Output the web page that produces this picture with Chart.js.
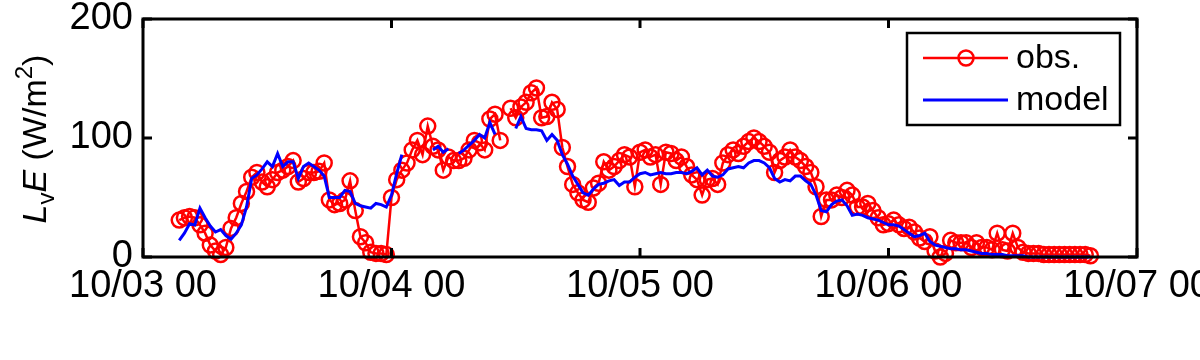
<!DOCTYPE html>
<html>
<head>
<meta charset="utf-8">
<script src="https://cdn.jsdelivr.net/npm/chart.js@4.4.1/dist/chart.umd.min.js"></script>
<style>
  html, body { margin: 0; padding: 0; background: #fff; }
  #wrap { width: 1200px; height: 360px; }
</style>
</head>
<body>
<div id="wrap"><canvas id="myChart" width="1200" height="360"></canvas></div>
<script>
// hours since 10/03 00, half-hourly samples
var tickHours = [0, 24, 48, 72, 96];
var tickLabels = ['10/03 00', '10/04 00', '10/05 00', '10/06 00', '10/07 00'];
var yTicks = [0, 100, 200];
var startHour = 3.5;
var stepHour = 0.5;

// observed LvE (W/m2), from 10/03 03:30
var obsValues = [
  31,
  33, 34, 33, 27, 20, 10, 5, 2, 8, 24, 33, 45,
  55, 67, 71, 63, 59, 65, 71, 73, 76, 81, 63, 66,
  71, 71, 72, 79, 48, 44, 45, 48, 64, 39, 17, 12,
  4, 3, 3, 2,
  50, 65, 73, 79, 90, 98, 86, 110, 93, 90, 73, 84,
  81, 81, 83, 90, 98, 96, 90, 116, 120, 98, null, 125,
  117, 126, 130, 138, 142, 117, 118, 130, 124, 92, 76, 61,
  54, 48, 46, 58, 62, 80, 73, 76, 81, 86, 84, 59,
  88, 90, 84, 86, 61, 88, 87, 81, 84, 76, 69, 65,
  52, 65, 66, 61, 79, 86, 90, 87, 93, 97, 100, 97,
  93, 88, 71, 81, 84, 90, 84, 81, 76, 71, 59, 34,
  48, 48, 52, 50, 56, 52, 42, 42, 45, 39, 33, 27,
  28, 31, 27, 24, 25, 21, 16, 13, 17, 5, 0, 3,
  14, 12, 12, 12, 8, 12, 8, 8, 6, 20, 6, 5,
  20, 8, 4, 3, 3, 3, 2, 2, 2, 2, 2, 2,
  2, 2, 2, 1
];

// model LvE (W/m2), from 10/03 03:30
var modelValues = [
  14,
  20, 28, 27, 41, 33, 26, 21, 23, 18, 15, 20, 27,
  42, 66, 69, 74, 80, 76, 87, 76, 80, 80, 66, 76,
  79, 76, 73, 68, 50, 50, 50, 56, 55, 45, 43, 42,
  41, 45, 44, 42,
  52, 70, 86, null, null, null, null, null, 90, 93, 88, 91,
  null, 87, 90, 94, 98, 103, 100, 113, 103, null, null, null,
  108, 118, 108, 107, 107, 106, 98, 103, 98, 86, 78, 68,
  61, 54, 52, 57, 61, 62, 64, 65, 60, 63, 63, 67,
  70, 71, 69, 70, 71, 70, 70, 71, 71, 70, 72, 75,
  69, 73, 68, 67, 69, 74, 75, 76, 75, 79, 81, 81,
  79, 75, 66, 63, 65, 64, 68, 68, 64, 61, 52, 39,
  38, 44, 47, 48, 43, 35, 36, 35, 33, 32, 31, 29,
  27, 27, 26, 23, 20, 17, 18, 20, 13, 10, 9, 8,
  7, 7, 6, 6, 5, 4, 3, 3, 2, 2, 2, 1,
  1, 1, 1, 0, 0, 0, 0, 0, 0, 0, 0, 0,
  0, 0, 0, 0
];

function toPoints(vals) {
  return vals.map(function(v, i) { return { x: startHour + i * stepHour, y: v }; });
}

var FONT = '"Liberation Sans", Arial, Helvetica, sans-serif';

// frame, inward ticks, legend and y title, like the matlab figure
var framePlugin = {
  id: 'frame',
  afterDraw: function(chart) {
    var ctx = chart.ctx;
    var a = chart.chartArea;
    var xs = chart.scales.x, ys = chart.scales.y;
    ctx.save();
    ctx.strokeStyle = '#000';
    ctx.lineWidth = 3;
    ctx.strokeRect(a.left, a.top, a.right - a.left, a.bottom - a.top);
    ctx.beginPath();
    tickHours.forEach(function(h) {
      var px = xs.getPixelForValue(h);
      ctx.moveTo(px, a.bottom); ctx.lineTo(px, a.bottom - 9);
      ctx.moveTo(px, a.top); ctx.lineTo(px, a.top + 9);
    });
    yTicks.forEach(function(v) {
      var py = ys.getPixelForValue(v);
      ctx.moveTo(a.left, py); ctx.lineTo(a.left + 9, py);
      ctx.moveTo(a.right, py); ctx.lineTo(a.right - 9, py);
    });
    ctx.stroke();

    // legend
    var bx = 907, by = 33, bw = 213, bh = 92;
    ctx.fillStyle = '#fff';
    ctx.fillRect(bx, by, bw, bh);
    ctx.lineWidth = 2.5;
    ctx.strokeRect(bx, by, bw, bh);
    var ds = chart.data.datasets;
    var rows = [58, 100];
    ds.forEach(function(d, i) {
      var y = rows[i];
      ctx.strokeStyle = d.borderColor;
      ctx.lineWidth = d.borderWidth;
      ctx.beginPath();
      ctx.moveTo(923, y); ctx.lineTo(1008, y);
      ctx.stroke();
      if (d.pointRadius > 0) {
        ctx.lineWidth = d.pointBorderWidth;
        ctx.beginPath();
        ctx.arc(966, y, d.pointRadius, 0, Math.PI * 2);
        ctx.stroke();
      }
      ctx.fillStyle = '#000';
      ctx.font = '34px ' + FONT;
      ctx.textBaseline = 'middle';
      ctx.textAlign = 'left';
      ctx.fillText(d.label, 1016, y + 1);
    });

    // y axis title: L_v E (W/m^2)
    var parts = [
      { t: 'L', f: 'italic 34px ' + FONT, dy: 0 },
      { t: 'v', f: '24px ' + FONT, dy: 8 },
      { t: 'E', f: 'italic 34px ' + FONT, dy: 0 },
      { t: ' (W/m', f: '34px ' + FONT, dy: 0 },
      { t: '2', f: '24px ' + FONT, dy: -14 },
      { t: ')', f: '34px ' + FONT, dy: 0 }
    ];
    var total = 0;
    parts.forEach(function(p) { ctx.font = p.f; p.w = ctx.measureText(p.t).width; total += p.w; });
    ctx.translate(46, 139);
    ctx.rotate(-Math.PI / 2);
    ctx.fillStyle = '#000';
    ctx.textAlign = 'left';
    ctx.textBaseline = 'alphabetic';
    var cx = -total / 2;
    parts.forEach(function(p) {
      ctx.font = p.f;
      ctx.fillText(p.t, cx, p.dy);
      cx += p.w;
    });
    ctx.restore();
  }
};

var config = {
  type: 'line',
  data: {
    datasets: [{
      label: 'obs.',
      data: toPoints(obsValues),
      borderColor: '#ff0000',
      borderWidth: 2.5,
      pointRadius: 7.5,
      pointBorderWidth: 2.5,
      pointBorderColor: '#ff0000',
      pointBackgroundColor: 'rgba(0,0,0,0)',
      pointStyle: 'circle',
      fill: false,
      spanGaps: false,
      tension: 0,
      clip: false,
      order: 1
    }, {
      label: 'model',
      data: toPoints(modelValues),
      borderColor: '#0000ff',
      borderWidth: 3,
      pointRadius: 0,
      fill: false,
      spanGaps: false,
      tension: 0,
      clip: false,
      order: 0
    }]
  },
  options: {
    responsive: false,
    animation: false,
    devicePixelRatio: 1,
    layout: { padding: { top: 19, right: 63, left: 0, bottom: 0 } },
    plugins: { legend: { display: false }, tooltip: { enabled: false } },
    scales: {
      x: {
        type: 'linear',
        min: 0, max: 96,
        afterBuildTicks: function(s) { s.ticks = tickHours.map(function(h) { return { value: h }; }); },
        afterFit: function(s) { s.height = 103; s.paddingLeft = 0; s.paddingRight = 0; },
        grid: { display: false, drawTicks: false },
        border: { display: false },
        ticks: {
          autoSkip: false, maxRotation: 0, padding: 7,
          color: '#000', font: { family: FONT, size: 38 },
          callback: function(v) { return tickLabels[tickHours.indexOf(v)]; }
        }
      },
      y: {
        min: 0, max: 200,
        afterBuildTicks: function(s) { s.ticks = yTicks.map(function(v) { return { value: v }; }); },
        afterFit: function(s) { s.width = 143; s.paddingTop = 0; s.paddingBottom = 0; },
        grid: { display: false, drawTicks: false },
        border: { display: false },
        ticks: {
          padding: 10,
          color: '#000', font: { family: FONT, size: 38 }
        }
      }
    }
  },
  plugins: [framePlugin]
};

var chart = new Chart(document.getElementById('myChart'), config);
</script>
</body>
</html>
